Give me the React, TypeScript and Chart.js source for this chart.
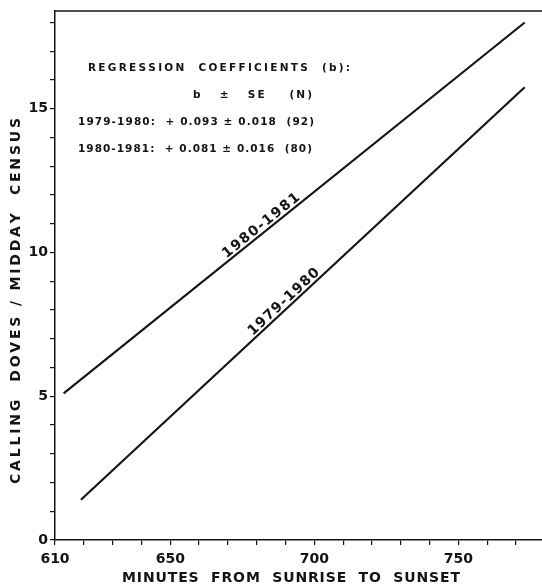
import { useEffect, useRef } from "react";
import { Chart, registerables } from "chart.js";
Chart.register(...registerables);

// ---- data ----
const xMin = 610;
const xMax = 779;
const yMin = 0;
const yMax = 18.4;
const xTickLabels = [610, 650, 700, 750];
const yTickLabels = [0, 5, 10, 15];
const seriesNames = ["1980-1981", "1979-1980"];
const series8081X = [613, 773];
const series8081Y = [5.1, 18.0];
const series7980X = [619, 773];
const series7980Y = [1.4, 15.75];
const annotationLines = [
  "REGRESSION  COEFFICIENTS  (b):",
  "b   ±   SE    (N)",
  "1979-1980:  + 0.093 ± 0.018  (92)",
  "1980-1981:  + 0.081 ± 0.016  (80)",
];
const xTitle = "MINUTES  FROM  SUNRISE  TO  SUNSET";
const yTitle = "CALLING  DOVES / MIDDAY  CENSUS";

// ---- styling / layout ----
const FONT = '"DejaVu Sans", "Liberation Sans", Arial, sans-serif';
const INK = "#141414";
const annotationLayout = [
  { x: 88, y: 68, w: 262 },
  { x: 193, y: 95, w: 119 },
  { x: 78, y: 122, w: 236 },
  { x: 78, y: 149, w: 234 },
];
const lineLabelLayout = [
  { at: 683, w: 95, off: 3 },
  { at: 691, w: 92, off: 3 },
];

function drawSpaced(ctx: CanvasRenderingContext2D, text: string, x: number, y: number, target: number) {
  const chars = Array.from(text);
  const widths = chars.map((c) => ctx.measureText(c).width);
  const w = widths.reduce((a, b) => a + b, 0);
  const s = chars.length > 1 ? (target - w) / (chars.length - 1) : 0;
  let cx = x;
  chars.forEach((c, i) => {
    ctx.fillText(c, cx, y);
    cx += widths[i] + s;
  });
}

const textPlugin = {
  id: "texts",
  afterDraw(chart: any) {
    const { ctx, chartArea, scales } = chart;
    const xs = scales.x;
    const ys = scales.y;
    ctx.save();
    // top frame line
    ctx.strokeStyle = INK;
    ctx.lineWidth = 1.5;
    ctx.beginPath();
    ctx.moveTo(chartArea.left, chartArea.top);
    ctx.lineTo(chartArea.right, chartArea.top);
    ctx.stroke();

    ctx.fillStyle = INK;
    ctx.textAlign = "left";
    ctx.textBaseline = "middle";
    // annotation block
    ctx.font = `bold 10.5px ${FONT}`;
    annotationLines.forEach((t, i) => {
      const l = annotationLayout[i];
      drawSpaced(ctx, t, l.x, l.y, l.w);
    });

    // axis titles
    ctx.font = `bold 14px ${FONT}`;
    drawSpaced(ctx, xTitle, 122, 578, 338);
    ctx.save();
    ctx.translate(16, 301);
    ctx.rotate(-Math.PI / 2);
    drawSpaced(ctx, yTitle, -183, 0, 366);
    ctx.restore();

    // line labels
    const sets = [
      [series8081X, series8081Y],
      [series7980X, series7980Y],
    ];
    ctx.font = `bold 14px ${FONT}`;
    ctx.textBaseline = "alphabetic";
    sets.forEach(([X, Y], i) => {
      const L = lineLabelLayout[i];
      const px1 = xs.getPixelForValue(X[0]);
      const py1 = ys.getPixelForValue(Y[0]);
      const px2 = xs.getPixelForValue(X[1]);
      const py2 = ys.getPixelForValue(Y[1]);
      const yv = Y[0] + ((Y[1] - Y[0]) * (L.at - X[0])) / (X[1] - X[0]);
      const px = xs.getPixelForValue(L.at);
      const py = ys.getPixelForValue(yv);
      const ang = Math.atan2(py2 - py1, px2 - px1);
      ctx.save();
      ctx.translate(px, py);
      ctx.rotate(ang);
      drawSpaced(ctx, seriesNames[i], -L.w / 2, -L.off, L.w);
      ctx.restore();
    });
    ctx.restore();
  },
};

export default function App() {
  const ref = useRef<HTMLCanvasElement>(null);
  useEffect(() => {
    if (!ref.current) return;
    const tickFont = { family: FONT, size: 14, weight: "bold" as const };
    const chart = new Chart(ref.current, {
      type: "scatter",
      data: {
        datasets: [
          {
            label: seriesNames[0],
            data: series8081X.map((x, i) => ({ x, y: series8081Y[i] })),
            showLine: true,
            borderColor: INK,
            borderWidth: 2.2,
            pointRadius: 0,
          },
          {
            label: seriesNames[1],
            data: series7980X.map((x, i) => ({ x, y: series7980Y[i] })),
            showLine: true,
            borderColor: INK,
            borderWidth: 2.2,
            pointRadius: 0,
          },
        ],
      },
      options: {
        animation: false,
        responsive: false,
        devicePixelRatio: 1,
        layout: { padding: { top: 11, right: 0, left: 0, bottom: 0 } },
        plugins: { legend: { display: false }, tooltip: { enabled: false } },
        scales: {
          x: {
            type: "linear",
            min: xMin,
            max: xMax,
            afterFit: (s: any) => {
              s.height = 47;
            },
            ticks: {
              stepSize: 10,
              includeBounds: false,
              autoSkip: false,
              maxRotation: 0,
              padding: 6,
              color: INK,
              font: tickFont,
              callback: (v: any) => (xTickLabels.includes(Number(v)) ? String(v) : ""),
            },
            grid: { drawOnChartArea: false, drawTicks: true, tickLength: 5, color: INK, lineWidth: 1.2 },
            border: { display: true, color: INK, width: 1.5 },
          },
          y: {
            type: "linear",
            min: yMin,
            max: yMax,
            afterFit: (s: any) => {
              s.width = 55;
            },
            ticks: {
              stepSize: 1,
              includeBounds: false,
              autoSkip: false,
              padding: 2,
              color: INK,
              font: tickFont,
              callback: (v: any) => (yTickLabels.includes(Number(v)) ? String(v) : ""),
            },
            grid: { drawOnChartArea: false, drawTicks: true, tickLength: 5, color: INK, lineWidth: 1.2 },
            border: { display: true, color: INK, width: 1.5 },
          },
        },
      },
      plugins: [textPlugin],
    });
    return () => chart.destroy();
  }, []);
  return (
    <div style={{ position: "absolute", left: 0, top: 0, width: 542, height: 587, background: "#fff" }}>
      <canvas ref={ref} width={542} height={587} style={{ display: "block" }} />
    </div>
  );
}
